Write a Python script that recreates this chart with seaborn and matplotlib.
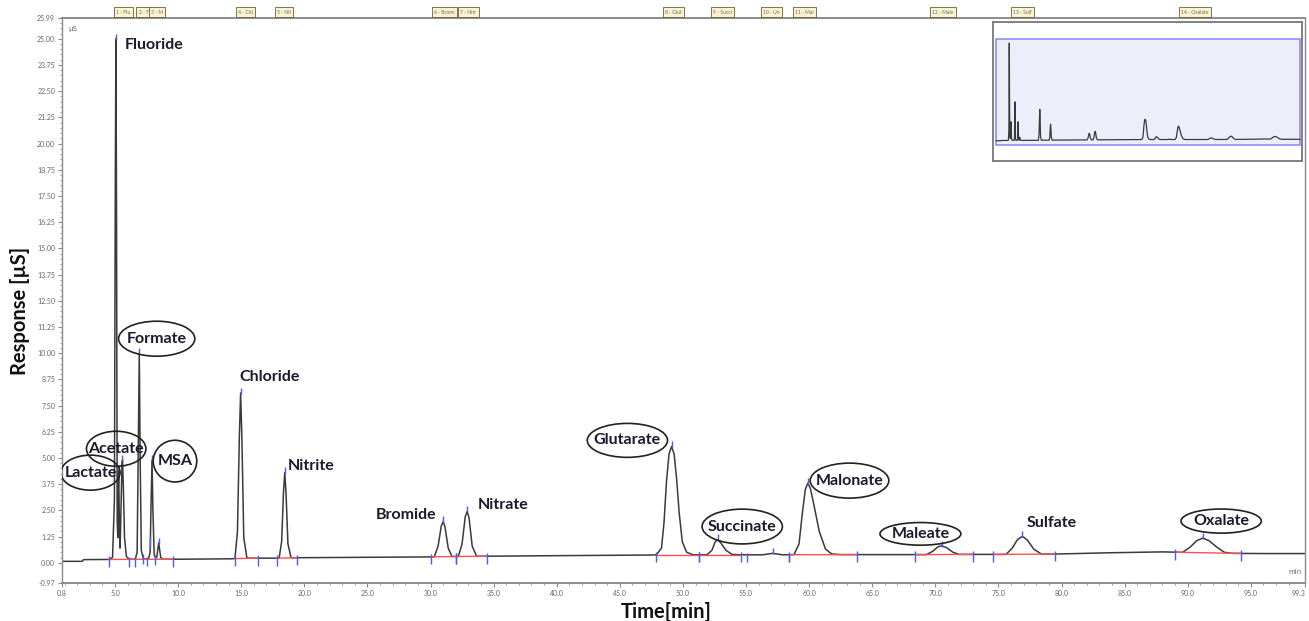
import matplotlib.pyplot as plt
import numpy as np
import seaborn as sns
from matplotlib.patches import Ellipse, Rectangle

# chromatogram trace: time [min], response [µS]
TIME = [
    0.8, 2.4, 2.5, 4.4,
    4.5, 4.8, 4.95, 5.02, 5.07, 5.12, 5.17, 5.22, 5.25, 5.29, 5.34, 5.40, 5.47, 5.55, 5.59, 5.65, 5.75, 5.9, 6.1,
    6.6, 6.75, 6.84, 6.92, 6.99, 7.08, 7.25,
    7.65, 7.78, 7.86, 7.93, 8.0, 8.1, 8.2,
    8.3, 8.46, 8.62, 8.8,
    10.0, 14.2,
    14.5, 14.7, 14.85, 14.95, 15.05, 15.2, 15.45,
    18.0, 18.2, 18.35, 18.45, 18.55, 18.7, 18.95,
    25.0, 30.0,
    30.3, 30.6, 30.85, 31.0, 31.15, 31.4, 31.7,
    32.2, 32.5, 32.75, 32.9, 33.05, 33.3, 33.65,
    40.0, 47.5,
    47.9, 48.3, 48.5, 48.7, 48.9, 49.1, 49.3, 49.5, 49.7, 49.95, 50.3, 50.8,
    51.9, 52.3, 52.55, 52.75, 53.0, 53.4, 53.9, 54.5,
    56.3, 57.1, 57.9,
    58.8, 59.2, 59.45, 59.7, 59.9, 60.1, 60.4, 60.8, 61.3, 61.8, 62.5,
    68.5,
    69.3, 69.8, 70.2, 70.5, 70.9, 71.4, 71.9,
    75.6, 76.1, 76.5, 76.9, 77.3, 77.8, 78.4, 79.0,
    84.0, 88.0, 89.3,
    89.6, 90.2, 90.7, 91.2, 91.7, 92.3, 92.9, 93.5,
    96.0, 99.3,
]
RESPONSE = [
    0.07, 0.07, 0.15, 0.16,
    0.16, 0.25, 3.0, 18.0, 25.0, 16.0, 2.0, 1.2, 3.5, 4.4, 2.0, 0.7, 2.5, 4.7, 4.9, 3.8, 1.2, 0.3, 0.17,
    0.17, 0.5, 5.5, 10.0, 5.0, 0.6, 0.18,
    0.18, 0.5, 3.0, 4.9, 2.5, 0.4, 0.25,
    0.25, 0.95, 0.25, 0.17,
    0.17, 0.19,
    0.2, 1.5, 6.0, 8.1, 6.0, 1.2, 0.22,
    0.22, 1.0, 3.4, 4.3, 3.3, 0.9, 0.24,
    0.26, 0.28,
    0.29, 0.8, 1.75, 1.97, 1.7, 0.7, 0.3,
    0.3, 0.9, 2.2, 2.45, 2.15, 0.8, 0.31,
    0.34, 0.37,
    0.38, 0.7, 1.9, 3.9, 5.2, 5.55, 5.2, 4.0, 2.4, 1.0, 0.5, 0.38,
    0.38, 0.6, 1.0, 1.1, 0.95, 0.6, 0.4, 0.38,
    0.38, 0.45, 0.38,
    0.39, 0.9, 2.3, 3.5, 3.8, 3.55, 2.7, 1.5, 0.65, 0.42, 0.39,
    0.39,
    0.39, 0.55, 0.76, 0.81, 0.72, 0.5, 0.4,
    0.4, 0.7, 1.1, 1.26, 1.08, 0.65, 0.42, 0.41,
    0.48, 0.52, 0.5,
    0.5, 0.75, 1.05, 1.18, 1.05, 0.75, 0.5, 0.45,
    0.44, 0.44,
]

# apex positions of the detected peaks (blue apex markers)
APEX_TIMES = [5.07, 5.29, 5.59, 6.92, 7.93, 8.46, 14.95, 18.45, 31.0, 32.9,
              49.1, 52.75, 57.1, 59.9, 70.5, 76.9, 91.2]

# integration windows (red baselines)
INTEGRATION_START = [4.5, 14.5, 17.8, 30.0, 32.0, 47.9, 51.3, 58.4, 68.4, 74.6, 89.0]
INTEGRATION_END = [9.6, 16.3, 19.4, 32.0, 34.5, 51.3, 54.6, 63.8, 73.0, 79.5, 94.2]
# extra peak start/stop markers
EXTRA_MARKERS = [6.1, 6.6, 7.2, 7.5, 7.8, 8.2, 55.1, 58.4]

# peak tags along the top of the plot
TAG_TIMES = [4.93, 6.7, 7.7, 14.6, 17.65, 30.1, 32.2, 48.4, 52.2, 56.2, 58.7, 69.6, 76.0, 89.3]
TAG_TEXT = ["1 - Flu", "2 - F", "3 - M", "4 - Chl", "5 - Nit", "6 - Bromi", "7 - Nitr",
            "8 - Glut", "9 - Succi", "10 - Un", "11 - Mal", "12 - Male", "13 - Sulf",
            "14 - Oxalate"]

# peak labels: (text, x, y, circled, ellipse width, ellipse height, align)
LABELS = [
    ("Fluoride", 5.8, 24.7, False, 0, 0, "left"),
    ("Formate", 8.3, 10.69, True, 6.04, 1.67, "center"),
    ("Acetate", 5.09, 5.44, True, 4.71, 1.67, "center"),
    ("Lactate", 3.05, 4.30, True, 4.69, 1.67, "center"),
    ("MSA", 9.75, 4.85, True, 3.45, 1.99, "center"),
    ("Chloride", 14.87, 8.87, False, 0, 0, "left"),
    ("Nitrite", 18.71, 4.6, False, 0, 0, "left"),
    ("Bromide", 28.05, 2.29, False, 0, 0, "center"),
    ("Nitrate", 35.74, 2.77, False, 0, 0, "center"),
    ("Glutarate", 45.6, 5.84, True, 6.36, 1.62, "center"),
    ("Succinate", 54.7, 1.73, True, 6.36, 1.66, "center"),
    ("Malonate", 63.2, 3.92, True, 6.23, 1.67, "center"),
    ("Maleate", 68.82, 1.38, True, 6.41, 1.08, "center"),
    ("Sulfate", 79.18, 1.92, False, 0, 0, "center"),
    ("Oxalate", 92.65, 1.99, True, 6.36, 1.15, "center"),
]

X_MIN, X_MAX = 0.8, 99.3
Y_MIN, Y_MAX = -0.97, 25.99

TRACE = "#3a3a3a"
MARK = "#4d5cf0"
AXIS = "#8c8c8c"


def main():
    sns.set_style("white")
    plt.rcParams["font.family"] = ["Lato", "DejaVu Sans"]

    fig = plt.figure(figsize=(13.09, 6.21), dpi=100)
    ax = fig.add_axes([0.0474, 0.061, 0.9496, 0.910])

    sns.lineplot(x=TIME, y=RESPONSE, ax=ax, color=TRACE, linewidth=1.1,
                 estimator=None, sort=False)

    # integration baselines and start/end markers
    for t0, t1 in zip(INTEGRATION_START, INTEGRATION_END):
        y0, y1 = np.interp([t0, t1], TIME, RESPONSE)
        ax.plot([t0, t1], [y0, y1], color="#ff5050", linewidth=1.0, zorder=3)
        for t, y in ((t0, y0), (t1, y1)):
            ax.vlines(t, y - 0.35, y + 0.15, color=MARK, linewidth=1.0, zorder=4)
    for t in EXTRA_MARKERS:
        y = np.interp(t, TIME, RESPONSE)
        ax.vlines(t, y - 0.35, y + 0.1, color=MARK, linewidth=1.0, zorder=4)
    for t in APEX_TIMES:
        y = np.interp(t, TIME, RESPONSE)
        ax.vlines(t, y - 0.05, y + 0.25, color=MARK, linewidth=1.0, zorder=4)

    # peak labels
    for text, x, y, circled, w, h, ha in LABELS:
        ax.text(x, y, text, ha=ha, va="center", fontsize=11.5, fontweight="bold",
                color="#1a1a2e", zorder=6)
        if circled:
            ax.add_patch(Ellipse((x, y), w, h, facecolor="none", edgecolor="#222222",
                                 linewidth=1.2, zorder=5))

    # tags on top
    for t, s in zip(TAG_TIMES, TAG_TEXT):
        ax.annotate(s, xy=(t, 1.0), xycoords=("data", "axes fraction"),
                    xytext=(1.5, 2.5), textcoords="offset points", fontsize=3.6,
                    color="#6a6a6a", ha="left", va="bottom", annotation_clip=False,
                    bbox=dict(boxstyle="square,pad=0.45", facecolor="#fbf3d0",
                              edgecolor="#6b5d3a", linewidth=0.6))

    ax.set_xlim(X_MIN, X_MAX)
    ax.set_ylim(Y_MIN, Y_MAX)
    xticks = [X_MIN] + list(range(5, 100, 5)) + [X_MAX]
    ax.set_xticks(xticks)
    ax.set_xticklabels([f"{v:.1f}" for v in xticks])
    ax.get_xticklabels()[-1].set_horizontalalignment("right")
    ax.set_xticks(np.arange(1, 99, 1.0), minor=True)
    yticks = [Y_MIN] + [i * 1.25 for i in range(21)] + [Y_MAX]
    ax.set_yticks(yticks)
    ax.set_yticklabels([f"{v:.2f}" for v in yticks])
    ax.set_yticks(np.arange(0, 26, 0.25), minor=True)
    ax.tick_params(which="major", direction="out", length=3, width=0.8, colors=AXIS,
                   labelsize=5, labelcolor="#666666", pad=2)
    ax.tick_params(which="minor", direction="out", length=1.5, width=0.6, colors=AXIS)
    ax.tick_params(axis="x", which="both", bottom=True)
    ax.tick_params(axis="y", which="both", left=True)
    for side, sp in ax.spines.items():
        sp.set_color(AXIS)
        sp.set_linewidth(1.4 if side in ("bottom", "top") else 1.0)
    ax.set_xlabel("")
    ax.set_ylabel("")

    ax.text(0.005, 0.985, "µS", transform=ax.transAxes, fontsize=5, color="#666666",
            ha="left", va="top", family="DejaVu Sans")
    ax.text(0.997, 0.015, "min", transform=ax.transAxes, fontsize=5, color="#666666",
            ha="right", va="bottom", family="DejaVu Sans")

    fig.text(0.0155, 0.5, "Response [µS]", rotation=90, ha="center", va="center",
             fontsize=14.5, fontweight="bold", color="#111111")
    fig.text(0.509, 0.015, "Time[min]", ha="center", va="center",
             fontsize=14.5, fontweight="bold", color="#111111")

    # overview inset
    ins = fig.add_axes([0.7586, 0.7407, 0.236, 0.224])
    ins.add_patch(Rectangle((X_MIN, Y_MIN), X_MAX - X_MIN, Y_MAX - Y_MIN,
                            facecolor="#eeeefb", edgecolor="#8f8ff0", linewidth=1.2))
    sns.lineplot(x=TIME, y=RESPONSE, ax=ins, color=TRACE, linewidth=0.9,
                 estimator=None, sort=False)
    ins.set_xlim(-0.2, 99.9)
    ins.set_ylim(-5.1, 30.4)
    ins.set_xticks([])
    ins.set_yticks([])
    ins.set_xlabel("")
    ins.set_ylabel("")
    for sp in ins.spines.values():
        sp.set_color("#777777")
        sp.set_linewidth(1.3)

    fig.savefig("out.png", dpi=100)


if __name__ == "__main__":
    main()
